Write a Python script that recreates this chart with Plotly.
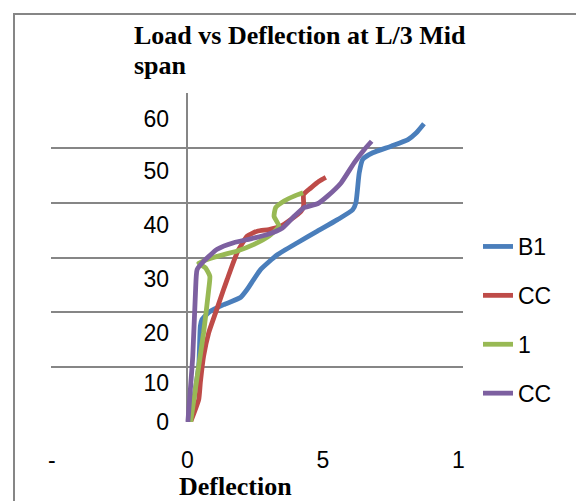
import plotly.graph_objects as go

# ---- data ----
series_names = ["B1", "CC", "1", "CC"]
series_colors = ["#4A7EBB", "#BE4B48", "#98B954", "#7D60A0"]

b1_x = [0.1, 0.42, 0.48, 0.54, 0.85, 1.34, 1.96, 2.21, 2.70, 3.32, 4.06, 4.80, 5.54, 6.10, 6.22, 6.34, 6.47, 6.84, 7.52, 8.14, 8.44, 8.73]
b1_y = [0, 10.2, 17.5, 18.7, 20.2, 21.4, 22.7, 24.2, 27.8, 30.5, 32.7, 34.8, 36.9, 38.7, 40.0, 45.4, 47.9, 49.1, 50.3, 51.5, 52.7, 54.4]

cc1_x = [0.12, 0.42, 0.48, 0.60, 0.79, 1.04, 1.34, 1.47, 1.84, 2.21, 2.58, 3.01, 3.44, 3.81, 4.19, 4.29, 4.29, 4.56, 4.86, 5.11]
cc1_y = [0, 4.1, 7.2, 12.0, 16.3, 19.9, 24.2, 26.0, 30.9, 33.9, 34.8, 35.1, 35.7, 36.9, 38.4, 39.4, 41.5, 42.7, 43.9, 44.6]

one_x = [0.12, 0.60, 0.79, 0.83, 0.67, 0.42, 1.10, 1.84, 2.46, 3.01, 3.38, 3.20, 3.26, 3.57, 3.94, 4.27]
one_y = [0, 16.3, 24.2, 26.6, 28.1, 29.0, 30.2, 31.2, 32.4, 33.9, 35.7, 37.5, 39.1, 40.3, 41.2, 41.8]

cc2_x = [0.02, 0.20, 0.30, 0.36, 0.60, 1.10, 1.71, 2.33, 2.95, 3.51, 3.94, 4.31, 4.80, 5.17, 5.67, 6.16, 6.53, 6.80]
cc2_y = [0, 12, 23.6, 27.8, 29.3, 31.5, 32.7, 33.4, 34.2, 35.4, 37.5, 39.1, 39.8, 41.2, 43.6, 47.3, 49.7, 51.2]

x_tick_vals = [-5, 0, 5, 10]
x_tick_text = ["-", "0", "5", "1"]
y_label_vals = [0, 7.1, 16.3, 26.0, 36.0, 45.7, 55.2]
y_label_text = ["0", "10", "20", "30", "40", "50", "60"]

title_line1 = "Load vs Deflection at L/3 Mid"
title_line2 = "span"
x_title = "Deflection"

# ---- layout geometry ----
W, H = 576, 501
L, R, T, B = 51, 113, 93, 79
PW, PH = W - L - R, H - T - B


def px_x(px):
    return (px - L) / PW


def px_y(py):
    return (H - B - py) / PH


fig = go.Figure()
all_x = [b1_x, cc1_x, one_x, cc2_x]
all_y = [b1_y, cc1_y, one_y, cc2_y]
for i, (xs, ys) in enumerate(zip(all_x, all_y)):
    fig.add_trace(go.Scatter(
        x=xs, y=ys, mode="lines", name=series_names[i],
        legendgroup="g%d" % i,
        line=dict(color=series_colors[i], width=4.8, shape="spline", smoothing=0.5),
    ))

# invisible trace to carry the offset y labels
fig.add_trace(go.Scatter(x=[0], y=[0], yaxis="y2", mode="markers",
                         marker=dict(opacity=0), showlegend=False, hoverinfo="skip"))

fig.update_layout(
    width=W, height=H,
    margin=dict(l=L, r=R, t=T, b=B),
    paper_bgcolor="white", plot_bgcolor="white",
    showlegend=True,
    legend=dict(
        x=px_x(478), y=px_y(225), xanchor="left", yanchor="top",
        font=dict(family="Liberation Sans", size=23, color="#000"),
        tracegroupgap=16, traceorder="grouped",
        bgcolor="rgba(0,0,0,0)",
    ),
    xaxis=dict(
        range=[-5.03, 10.17],
        tickvals=x_tick_vals, ticktext=x_tick_text,
        showgrid=False, zeroline=True, zerolinecolor="#868686", zerolinewidth=2,
        showline=False, ticks="",
        ticklabelstandoff=22,
        tickfont=dict(family="Liberation Sans", size=23, color="#000"),
    ),
    yaxis=dict(
        range=[0, 60], dtick=10, tick0=0,
        showgrid=True, gridcolor="#868686", gridwidth=2,
        zeroline=False, showline=False, ticks="", showticklabels=False,
    ),
    yaxis2=dict(
        range=[0, 60], overlaying="y", anchor="free", side="left",
        position=px_x(169),
        tickvals=y_label_vals, ticktext=y_label_text,
        showgrid=False, zeroline=False, showline=False, ticks="",
        tickfont=dict(family="Liberation Sans", size=23, color="#000"),
    ),
    annotations=[
        dict(text="<b>%s</b>" % title_line1, xref="paper", yref="paper",
             x=px_x(132), y=px_y(35), xanchor="left", yanchor="middle", showarrow=False,
             font=dict(family="Liberation Serif", size=26, color="#000")),
        dict(text="<b>%s</b>" % title_line2, xref="paper", yref="paper",
             x=px_x(132), y=px_y(65), xanchor="left", yanchor="middle", showarrow=False,
             font=dict(family="Liberation Serif", size=26, color="#000")),
        dict(text="<b>%s</b>" % x_title, xref="paper", yref="paper",
             x=px_x(235), y=px_y(486), xanchor="center", yanchor="middle", showarrow=False,
             font=dict(family="Liberation Serif", size=26, color="#000")),
    ],
    shapes=[
        dict(type="rect", xref="paper", yref="paper",
             x0=px_x(14), x1=px_x(620), y0=px_y(14), y1=px_y(540),
             line=dict(color="#868686", width=2), fillcolor="rgba(0,0,0,0)", layer="below"),
    ],
)

fig.write_html("out.html")
